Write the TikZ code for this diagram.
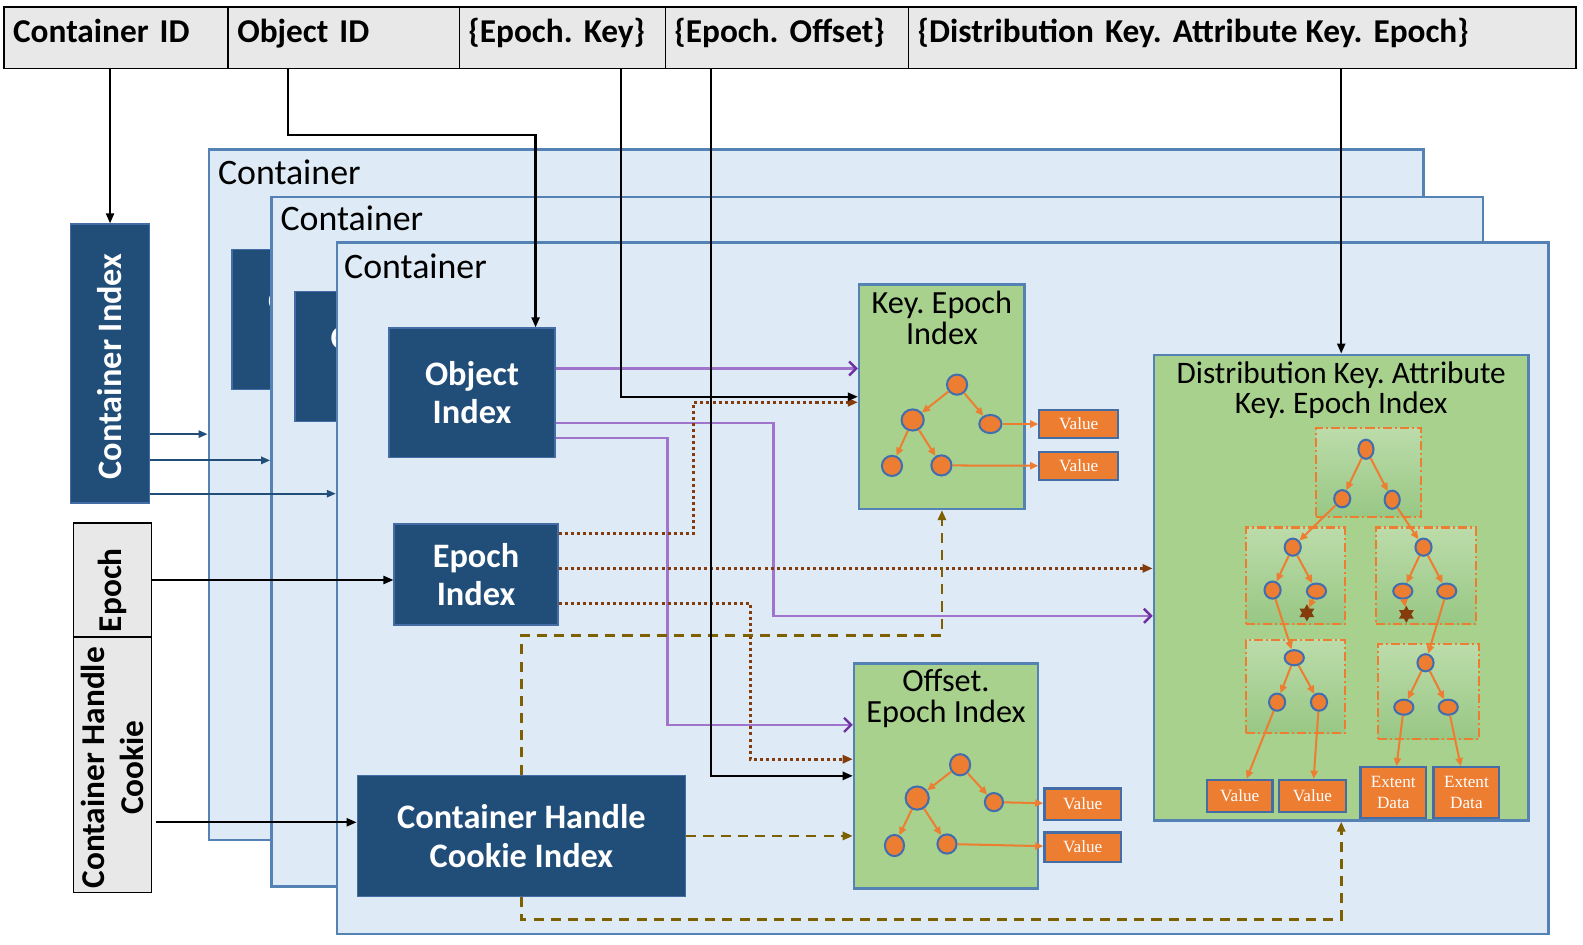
\documentclass[tikz,border=0pt]{standalone}
\usepackage{fontspec}
\setmainfont{Carlito}
\newfontfamily\valfont{Liberation Serif}
\usetikzlibrary{arrows.meta}
\usetikzlibrary{calc}
\usetikzlibrary{positioning}
\usetikzlibrary{shapes.geometric}
\frenchspacing

\definecolor{hdrgray}{RGB}{232,232,232}
\definecolor{idxblue}{RGB}{33,78,121}
\definecolor{idxline}{RGB}{68,108,165}
\definecolor{ctrfill}{RGB}{222,234,246}
\definecolor{ctrline}{RGB}{84,130,180}
\definecolor{treegreen}{RGB}{169,209,142}
\definecolor{subtop}{RGB}{188,220,170}
\definecolor{subbot}{RGB}{152,199,132}
\definecolor{leaforange}{RGB}{237,125,49}
\definecolor{tnblue}{RGB}{65,110,175}
\definecolor{oidpurple}{RGB}{160,115,205}
\definecolor{tippurple}{RGB}{112,48,160}
\definecolor{epochbrown}{RGB}{132,60,12}
\definecolor{cookieolive}{RGB}{127,96,0}

\begin{document}
\begin{tikzpicture}[x=1pt, y=-1pt,
		hdr/.style={draw, line width=1.4, fill=hdrgray, minimum height=61, inner xsep=9, inner ysep=0, text height=20, text depth=11, align=left, font=\fontsize{33}{38}\selectfont\bfseries},
		ctr/.style={draw=ctrline, fill=ctrfill, line width=2.5, inner sep=0},
		ctrlbl/.style={inner sep=0, font=\fontsize{35.5}{40}\selectfont},
		idx/.style={draw=idxline, fill=idxblue, line width=1.5, inner sep=0, text=white, align=center, font=\fontsize{34}{38}\selectfont\bfseries},
		idxtxt/.style={rotate=90, text=white, align=center, font=\fontsize{34}{38}\selectfont\bfseries},
		keycell/.style={draw, line width=1.4, fill=hdrgray, inner sep=0, minimum width=77},
		keytxt/.style={rotate=90, align=center, font=\fontsize{33}{38}\selectfont\bfseries},
		gbox/.style={draw=ctrline, fill=treegreen, line width=2.5, inner sep=0},
		ttl/.style={inner sep=0, align=center, font=\fontsize{32}{31}\selectfont},
		dttl/.style={ttl, font=\fontsize{31}{30}\selectfont},
		val/.style={draw=idxline, fill=leaforange, line width=2.2, inner sep=0, text=white, align=center, font=\valfont\fontsize{17}{21}\selectfont},
		tn/.style={ellipse, draw=tnblue, fill=leaforange, line width=2, inner sep=0, minimum width=20, minimum height=20},
		tns/.style={tn, minimum width=16, minimum height=17},
		tnw/.style={tn, minimum width=19, minimum height=15},
		sub/.style={draw=leaforange, line width=2, dash pattern=on 9pt off 3pt on 2pt off 3pt, top color=subtop, bottom color=subbot, inner sep=0},
		hexstar/.style={star, star points=6, star point ratio=1.75, fill=epochbrown, inner sep=0, minimum size=17},
		tedge/.style={draw=leaforange, line width=2, -{Triangle[length=8,width=7]}},
		blk/.style={draw=black, line width=2.2, -{Triangle[length=10,width=8]}},
		cidxarr/.style={draw=idxblue, line width=2.2, -{Triangle[length=9,width=7]}},
		oidarr/.style={draw=oidpurple, line width=2.6, -{Straight Barb[length=7,width=14,line width=2.4,color=tippurple]}},
		eparr/.style={draw=epochbrown, line width=3, dash pattern=on 3pt off 3pt, -{Triangle[length=10,width=8]}},
		ckarr/.style={draw=cookieolive, line width=2.8, dash pattern=on 10pt off 7pt, -{Triangle[length=10,width=8]}}]
	\useasboundingbox (0,0) rectangle (1568,936);

	\node[hdr, text width=204] (hcid) at (115,37.5) {Container ID};
	\node[hdr, text width=211] (hoid) at (340.5,37.5) {Object ID};
	\node[hdr, text width=186] (hkey) at (557,37.5) {\{Epoch. Key\}};
	\node[hdr, text width=223] (hoff) at (779.5,37.5) {\{Epoch. Offset\}};
	\node[hdr, text width=643] (hdist) at (1230.5,37.5) {\{Distribution Key. Attribute\hspace{-3pt} Key. Epoch\}};

	\node[ctr, minimum width=1203, minimum height=684] (ctrA) at (808.5,490) {};
	\node[ctrlbl, anchor=base west] (ctrAlbl) at ($(ctrA.north west)+(10,36)$) {Container};
	\node[idx, minimum width=164, minimum height=139] (objA) at (312,316.5) {Object\\Index};
	\node[ctr, minimum width=1200, minimum height=683] (ctrB) at (869,536.5) {};
	\node[ctrlbl, anchor=base west] (ctrBlbl) at ($(ctrB.north west)+(10,35)$) {Container};
	\node[idx, minimum width=164, minimum height=129] (objB) at (374,353) {Object\\Index};
	\node[ctr, minimum width=1200, minimum height=685] (ctrC) at (934,582.5) {};
	\node[ctrlbl, anchor=base west] (ctrClbl) at ($(ctrC.north west)+(8,37)$) {Container};

	\node[idx, minimum width=78, minimum height=276] (cidx) at (109,360) {};
	\node[idxtxt] (cidxtxt) at ($(cidx)+(0,3)$) {Container Index};
	\node[keycell, minimum height=113] (epk) at (111.5,574.5) {};
	\node[keytxt] (epktxt) at ($(epk)+(0,10)$) {Epoch};
	\node[keycell, minimum height=253] (ckk) at (111.5,757.5) {};
	\node[keytxt] (ckktxt) at ($(ckk)+(0,3)$) {Container Handle\\Cookie};

	\node[idx, minimum width=164, minimum height=128] (obj) at (467.5,389) {Object\\Index};
	\node[idx, minimum width=162, minimum height=100] (epi) at (471.5,569) {Epoch\\Index};
	\node[idx, minimum width=325, minimum height=120] (chc) at (516.5,828) {Container Handle\\Cookie Index};

	\node[gbox, minimum width=164, minimum height=222] (kei) at (933,393) {};
	\node[ttl, below=7pt of kei.north] (keittl) {Key. Epoch\\Index};
	\node[tn] (k0) at (948,381) {};
	\node[tn, minimum width=22, minimum height=21] (k1) at (904,416) {};
	\node[tn, minimum width=22, minimum height=18] (k2) at (981,420) {};
	\node[tn] (k3) at (883.5,461.5) {};
	\node[tn] (k4) at (932.5,461) {};
	\node[val, minimum width=78, minimum height=28] (kv1) at (1068.5,420) {Value};
	\node[val, minimum width=78, minimum height=28] (kv2) at (1068.5,461.5) {Value};
	\draw[tedge] (k0) -- (k1);
	\draw[tedge] (k0) -- (k2);
	\draw[tedge] (k1) -- (k3);
	\draw[tedge] (k1) -- (k4);
	\draw[tedge] (k2) -- (kv1);
	\draw[tedge] (k4) -- (kv2);

	\node[gbox, minimum width=182, minimum height=223] (oei) at (937,768.5) {};
	\node[ttl, below=7pt of oei.north] (oeittl) {Offset.\\Epoch Index};
	\node[tn, minimum height=21] (o0) at (951,757.5) {};
	\node[tn, minimum width=23, minimum height=23] (o1) at (908.5,790.5) {};
	\node[tn, minimum width=18, minimum height=18] (o2) at (984.5,794.5) {};
	\node[tn, minimum width=19, minimum height=21] (o3) at (886,837.5) {};
	\node[tn, minimum width=19, minimum height=19] (o4) at (938,836) {};
	\node[val, minimum width=76, minimum height=31] (ov1) at (1072.5,796.5) {Value};
	\node[val, minimum width=76, minimum height=29] (ov2) at (1072.5,839) {Value};
	\draw[tedge] (o0) -- (o1);
	\draw[tedge] (o0) -- (o2);
	\draw[tedge] (o1) -- (o3);
	\draw[tedge] (o1) -- (o4);
	\draw[tedge] (o2) -- (ov1);
	\draw[tedge] (o4) -- (ov2);

	\node[gbox, minimum width=371, minimum height=461] (dei) at (1328.5,582) {};
	\node[dttl, below=8pt of dei.north] (deittl) {Distribution Key. Attribute\\Key. Epoch Index};
	\node[sub, minimum width=104, minimum height=88] (subt) at (1355.5,468) {};
	\node[sub, minimum width=98, minimum height=96] (subml) at (1283,570.5) {};
	\node[sub, minimum width=99, minimum height=96] (submr) at (1412.5,570.5) {};
	\node[sub, minimum width=98, minimum height=93] (subbl) at (1283,680) {};
	\node[sub, minimum width=100, minimum height=94] (subbr) at (1415,685) {};
	\node[tn, minimum width=15, minimum height=19] (d0) at (1353,445) {};
	\node[tns] (d1) at (1329.5,494) {};
	\node[tn, minimum width=15, minimum height=18] (d2) at (1379,495) {};
	\node[tns] (d3) at (1280.5,542) {};
	\node[tns] (d4) at (1260.5,584.5) {};
	\node[tnw] (d5) at (1304,585.5) {};
	\node[hexstar] (s1) at (1294.5,607) {};
	\node[tns] (d6) at (1410,542) {};
	\node[tnw] (d7) at (1389.5,585.5) {};
	\node[tnw] (d8) at (1433,585.5) {};
	\node[hexstar] (s2) at (1393,608.5) {};
	\node[tnw] (d9) at (1282,651.5) {};
	\node[tns] (d10) at (1265,695.5) {};
	\node[tns] (d11) at (1306.5,695.5) {};
	\node[tns] (d12) at (1412,656.5) {};
	\node[tnw] (d13) at (1390.5,700.5) {};
	\node[tnw] (d14) at (1434.5,700.5) {};
	\node[val, minimum width=65, minimum height=32] (dv1) at (1228,788.5) {Value};
	\node[val, minimum width=66, minimum height=32] (dv2) at (1300,788.5) {Value};
	\node[val, minimum width=65, minimum height=50] (dx1) at (1380,785) {Extent\\Data};
	\node[val, minimum width=65, minimum height=50] (dx2) at (1452.5,785) {Extent\\Data};
	\draw[tedge] (d0) -- (d1);
	\draw[tedge] (d0) -- (d2);
	\draw[tedge] (d1) -- (d3);
	\draw[tedge] (d2) -- (d6);
	\draw[tedge] (d3) -- (d4);
	\draw[tedge] (d3) -- (d5);
	\draw[tedge] (d5) -- (s1);
	\draw[tedge] (d6) -- (d7);
	\draw[tedge] (d6) -- (d8);
	\draw[tedge] (d7) -- (s2);
	\draw[tedge] (d4) -- (d9);
	\draw[tedge] (d8) -- (d12);
	\draw[tedge] (d9) -- (d10);
	\draw[tedge] (d9) -- (d11);
	\draw[tedge] (d12) -- (d13);
	\draw[tedge] (d12) -- (d14);
	\draw[tedge] (d10) -- (dv1);
	\draw[tedge] (d11) -- (dv2);
	\draw[tedge] (d13) -- (dx1);
	\draw[tedge] (d14) -- (dx2);

	\draw[cidxarr] ($(cidx.east)+(0,70)$) coordinate (ca) -- (ca -| ctrA.west);
	\draw[cidxarr] ($(cidx.east)+(0,96)$) coordinate (cb) -- (cb -| ctrB.west);
	\draw[cidxarr] ($(cidx.east)+(0,129)$) coordinate (cc) -- (cc -| ctrC.west);

	\draw[oidarr] ($(obj.east)+(0,-24)$) coordinate (p1) -- (p1 -| kei.west);
	\draw[oidarr] ($(obj.east)+(0,30)$) -- ++(216,0) |- ($(dei.west)+(0,28)$);
	\draw[oidarr] ($(obj.east)+(0,45)$) -- ++(111,0) |- ($(oei.west)+(0,-50.5)$);

	\draw[eparr] ($(epi.east)+(0,-41)$) -- ++(134,0) |- ($(kei.west)+(0,5.5)$);
	\draw[eparr] ($(epi.east)+(0,-6)$) coordinate (b2) -- (b2 -| dei.west);
	\draw[eparr] ($(epi.east)+(0,28.5)$) -- ++(190,0) |- ($(oei.west)+(0,-16.5)$);

	\draw[ckarr] (chc.north) -- ++(0,-138) -| (kei.south);
	\draw[ckarr] (chc.east) -- (chc.east -| oei.west);
	\draw[ckarr] (chc.south) -- ++(0,22) -| (dei.south);

	\draw[blk] (cidx.north |- hcid.south) -- (cidx.north);
	\draw[blk] ($(hoid.south)+(-55.5,0)$) -- ++(0,65) -| ($(obj.north)+(63,0)$);
	\draw[blk] ($(hkey.south)+(58,0)$) |- (kei.west);
	\draw[blk] ($(hoff.south)+(-75.5,0)$) |- (oei.west);
	\draw[blk] (dei.north |- hdist.south) -- (dei.north);
	\draw[blk] (epk.east) -- (epk.east -| epi.west);
	\draw[blk] ($(ckk.east)+(4,57)$) coordinate (ck) -- (ck -| chc.west);
\end{tikzpicture}
\end{document}
